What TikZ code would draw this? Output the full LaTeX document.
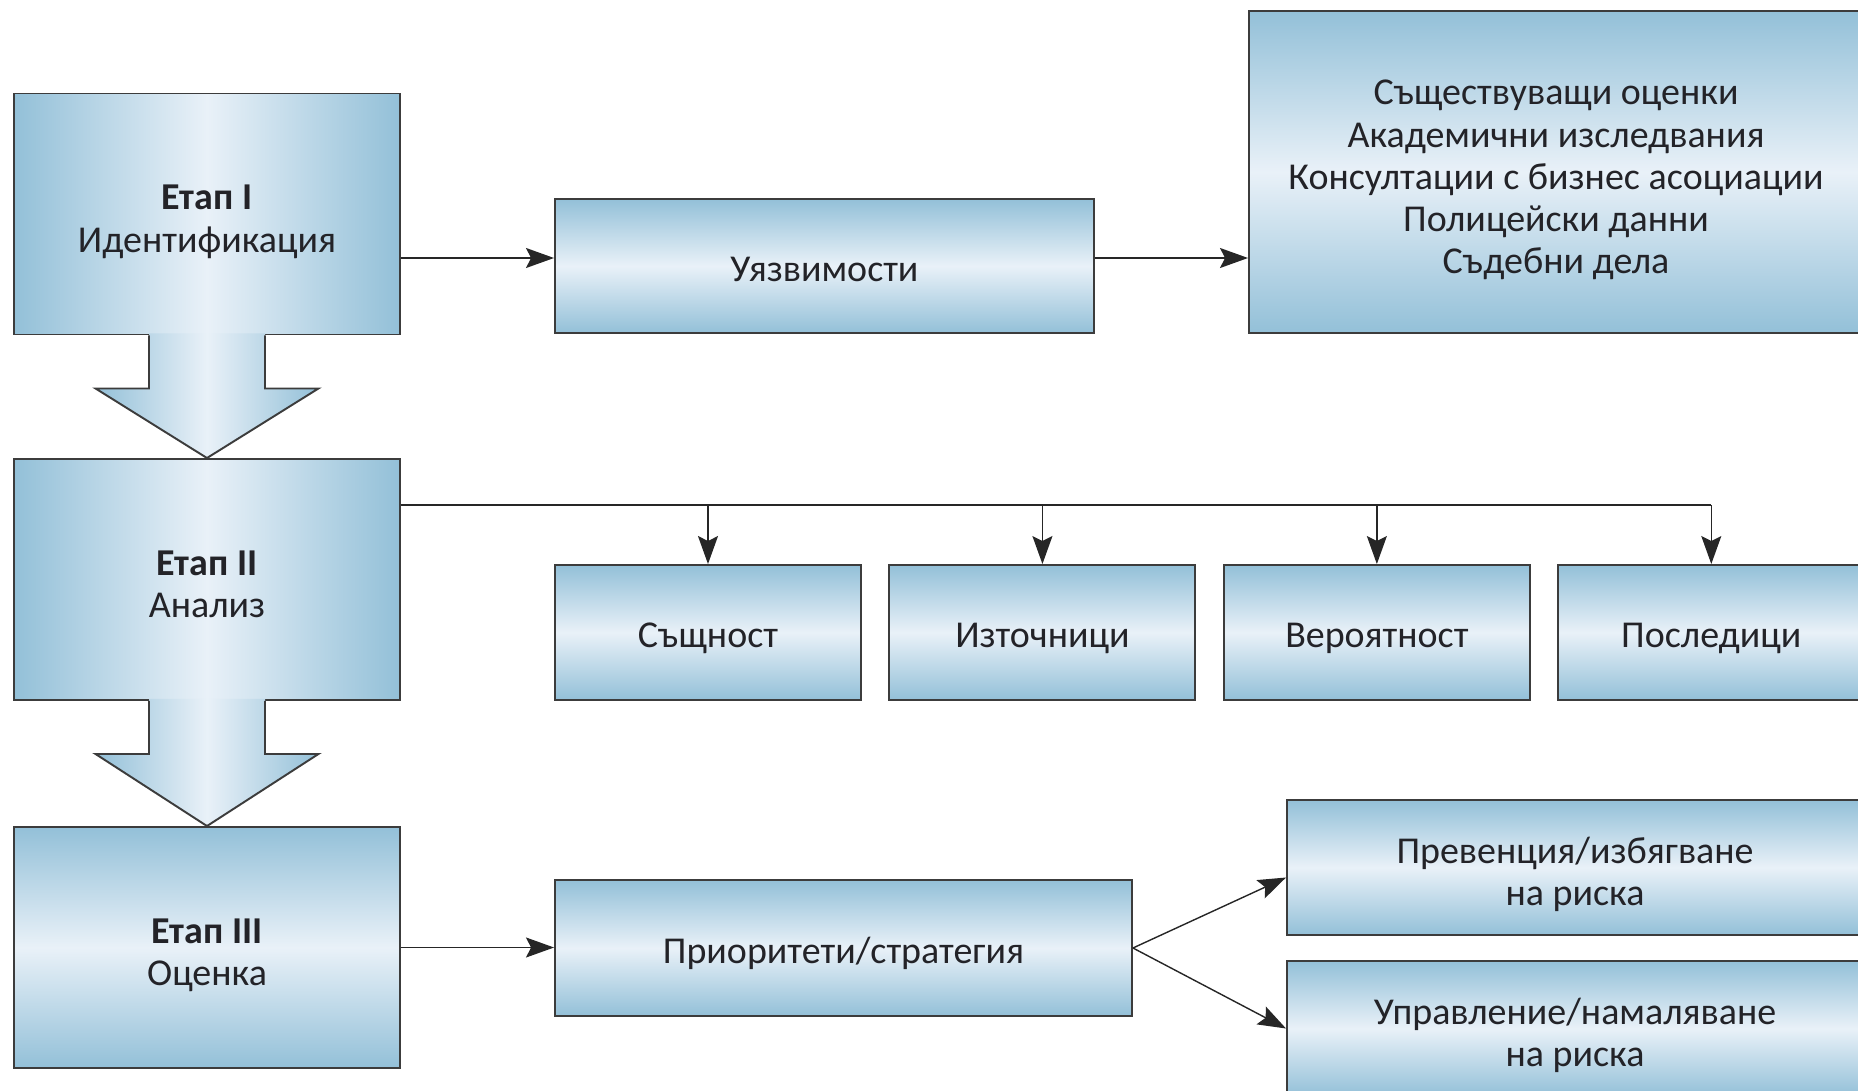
\documentclass[tikz,border=0pt]{standalone}
\usepackage{fontspec}
\setmainfont{Carlito}
\definecolor{boxdark}{RGB}{147, 192, 216}
\definecolor{boxlight}{RGB}{233, 241, 248}
\definecolor{edgegray}{RGB}{60, 60, 60}
\definecolor{textgray}{RGB}{35, 35, 40}
\usetikzlibrary{arrows.meta, positioning, calc}

\begin{document}
\begin{tikzpicture}[
  every node/.style={font=\fontsize{10.8}{12}\selectfont, text=textgray},
  vbox/.style={draw=edgegray, line width=0.55pt, top color=boxdark, bottom color=boxdark, middle color=boxlight, align=center, inner sep=0pt, text depth=0pt, text height=8.8pt},
  hbox/.style={draw=edgegray, line width=0.55pt, left color=boxdark, right color=boxdark, middle color=boxlight, align=center, inner sep=0pt, text depth=0pt},
  twolines/.style={text height=21.7pt},
  fivelines/.style={text height=57.8pt},
  stage/.style={minimum width=3.86cm, minimum height=2.41cm, twolines},
  smallbox/.style={vbox, minimum width=3.06cm, minimum height=1.35cm},
  conn/.style={draw=black!85, line width=0.4pt, -{Stealth[length=2.8mm, width=2mm, inset=0.5mm]}}
]
  \useasboundingbox (0,0) rectangle (18.58,-10.91);
  \clip (0,0) rectangle (18.58,-10.91);

  % Stages
  \node[hbox, stage] (st1) at (2.07,-2.14) {\textbf{Етап I}\\Идентификация};
  \node[hbox, stage] (st2) at (2.07,-5.795) {\textbf{Етап II}\\Анализ};
  \node[vbox, stage] (st3) at (2.07,-9.475) {\textbf{Етап III}\\Оценка};

  % Identification row
  \node[vbox, minimum width=5.39cm, minimum height=1.34cm] (uyaz) at (8.245,-2.66) {Уязвимости};
  \node[vbox, fivelines, minimum width=6.14cm, minimum height=3.22cm] (src) at (15.56,-1.72) {
    Съществуващи оценки\\
    Академични изследвания\\
    Консултации с бизнес асоциации\\
    Полицейски данни\\
    Съдебни дела};

  % Analysis row
  \node[smallbox] (sasht) at (7.08,-6.325) {Същност};
  \node[smallbox, right=0.265cm of sasht] (izt) {Източници};
  \node[smallbox, right=0.265cm of izt] (ver) {Вероятност};
  \node[smallbox, right=0.265cm of ver] (posl) {Последици};

  % Assessment row
  \node[vbox, minimum width=5.77cm, minimum height=1.36cm] (prio) at (8.435,-9.48) {Приоритети/стратегия};
  \node[vbox, twolines, minimum width=5.76cm, minimum height=1.35cm] (prev) at (15.75,-8.675) {Превенция/избягване\\на риска};
  \node[vbox, twolines, minimum width=5.76cm, minimum height=1.35cm] (mgmt) at (15.75,-10.285) {Управление/намаляване\\на риска};

  % Block arrows between stages
  \foreach \a/\b in {st1/st2, st2/st3} {
    \shade[left color=boxdark, right color=boxdark, middle color=boxlight]
      ($(\a.south)+(-0.58,0.02)$) -- ($(\a.south)+(-0.58,-0.53)$) -- ($(\a.south)+(-1.115,-0.53)$)
      -- (\b.north) -- ($(\a.south)+(1.115,-0.53)$) -- ($(\a.south)+(0.58,-0.53)$)
      -- ($(\a.south)+(0.58,0.02)$) -- cycle;
    \draw[edgegray, line width=0.55pt]
      ($(\a.south)+(-0.58,0)$) -- ($(\a.south)+(-0.58,-0.53)$) -- ($(\a.south)+(-1.115,-0.53)$)
      -- (\b.north) -- ($(\a.south)+(1.115,-0.53)$) -- ($(\a.south)+(0.58,-0.53)$)
      -- ($(\a.south)+(0.58,0)$);
  }

  % Connectors
  \coordinate (r1) at ([yshift=0.8mm]uyaz.west);
  \draw[conn] (r1 -| st1.east) -- (r1);
  \draw[conn] (r1 -| uyaz.east) -- (r1 -| src.west);

  \coordinate (bus) at ([yshift=-0.47cm]st2.north);
  \draw[draw=black!85, line width=0.4pt] (bus -| st2.east) -- (bus -| posl.north);
  \foreach \n in {sasht, izt, ver, posl}
    \draw[conn] (bus -| \n.north) -- (\n.north);

  \draw[conn] (st3.east) -- (st3.east -| prio.west);
  \draw[conn] (prio.east) -- ([yshift=-1mm]prev.west);
  \draw[conn] (prio.east) -- (mgmt.west);
\end{tikzpicture}
\end{document}
